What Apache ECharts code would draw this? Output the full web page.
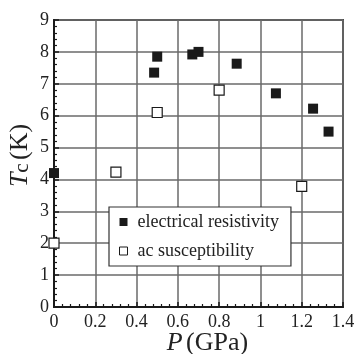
<!DOCTYPE html>
<html>
<head>
<meta charset="utf-8">
<script src="https://cdn.jsdelivr.net/npm/echarts@6/dist/echarts.min.js"></script>
<style>
  html, body { margin: 0; padding: 0; background: #fff; }
  #chart { width: 355px; height: 354px; }
</style>
</head>
<body>
<div id="chart"></div>
<script>
// Superconducting transition temperature vs. pressure
const resistivityP = [0, 0.485, 0.5, 0.67, 0.7, 0.885, 1.075, 1.255, 1.33];
const resistivityTc = [4.2, 7.35, 7.85, 7.92, 8.0, 7.63, 6.7, 6.22, 5.5];
const susceptibilityP = [0, 0.3, 0.5, 0.8, 1.2];
const susceptibilityTc = [2.0, 4.23, 6.1, 6.8, 3.78];
const seriesNames = ['electrical resistivity', 'ac susceptibility'];

const serif = "'Liberation Serif', 'Times New Roman', serif";

const toPairs = (xs, ys) => xs.map((x, i) => [x, ys[i]]);

const chart = echarts.init(document.getElementById('chart'), null, { renderer: 'canvas' });

const axisCommon = {
  axisLine: { show: true, lineStyle: { color: '#1a1a1a', width: 2 } },
  axisTick: { show: true, inside: true, length: 5, lineStyle: { color: '#1a1a1a', width: 1.5 } },
  minorTick: { show: true, splitNumber: 5, length: 3, lineStyle: { color: '#1a1a1a', width: 1.2 } },
  splitLine: { show: true, lineStyle: { color: '#6a6a6a', width: 1.5 } },
  axisLabel: { color: '#222', fontFamily: serif, fontSize: 18 }
};

chart.setOption({
  animation: false,
  backgroundColor: '#fff',
  grid: {
    left: 54, right: 12, top: 20, bottom: 47,
    outerBoundsMode: 'none',
    containLabel: false,
    show: true, borderColor: '#4a4a4a', borderWidth: 2, backgroundColor: 'transparent'
  },
  xAxis: Object.assign({}, axisCommon, {
    type: 'value', min: 0, max: 1.4, interval: 0.2,
    axisLabel: Object.assign({}, axisCommon.axisLabel, { margin: 6 }),
    name: '{i|P} {n|(GPa)}',
    nameLocation: 'middle',
    nameGap: 23,
    nameMoveOverlap: false,
    nameTextStyle: {
      padding: [0, 0, 0, 18],
      rich: {
        i: { fontFamily: serif, fontStyle: 'italic', fontSize: 26, color: '#222' },
        n: { fontFamily: serif, fontSize: 26, color: '#222' }
      }
    }
  }),
  yAxis: Object.assign({}, axisCommon, {
    type: 'value', min: 0, max: 9, interval: 1,
    axisLabel: Object.assign({}, axisCommon.axisLabel, { margin: 5 }),
    name: '{i|T}{s|c} {n|(K)}',
    nameLocation: 'middle',
    nameRotate: 90,
    nameGap: 21,
    nameMoveOverlap: false,
    nameTextStyle: {
      padding: [0, 0, 0, 16],
      rich: {
        i: { fontFamily: serif, fontStyle: 'italic', fontSize: 26, color: '#222' },
        s: { fontFamily: serif, fontSize: 21, color: '#222', verticalAlign: 'bottom' },
        n: { fontFamily: serif, fontSize: 26, color: '#222' }
      }
    }
  }),
  legend: {
    left: 109, top: 207,
    orient: 'vertical',
    backgroundColor: '#fff',
    borderColor: '#333',
    borderWidth: 1.2,
    borderRadius: 0,
    padding: [6, 12, 6, 10],
    itemGap: 11,
    itemWidth: 8,
    itemHeight: 8,
    icon: 'rect',
    textStyle: { fontFamily: serif, fontSize: 18, color: '#222', padding: [0, 0, 0, 5] },
    data: [
      { name: seriesNames[0] },
      { name: seriesNames[1], itemStyle: { borderWidth: 1 } }
    ]
  },
  series: [
    {
      name: seriesNames[0],
      type: 'scatter',
      symbol: 'rect',
      symbolSize: 10,
      clip: false,
      itemStyle: { color: '#1a1a1a', opacity: 1 },
      data: toPairs(resistivityP, resistivityTc),
      z: 5
    },
    {
      name: seriesNames[1],
      type: 'scatter',
      symbol: 'rect',
      symbolSize: 10,
      clip: false,
      itemStyle: { color: '#fff', borderColor: '#1a1a1a', borderWidth: 1.2, opacity: 1 },
      data: toPairs(susceptibilityP, susceptibilityTc),
      z: 5
    }
  ]
});
</script>
</body>
</html>
